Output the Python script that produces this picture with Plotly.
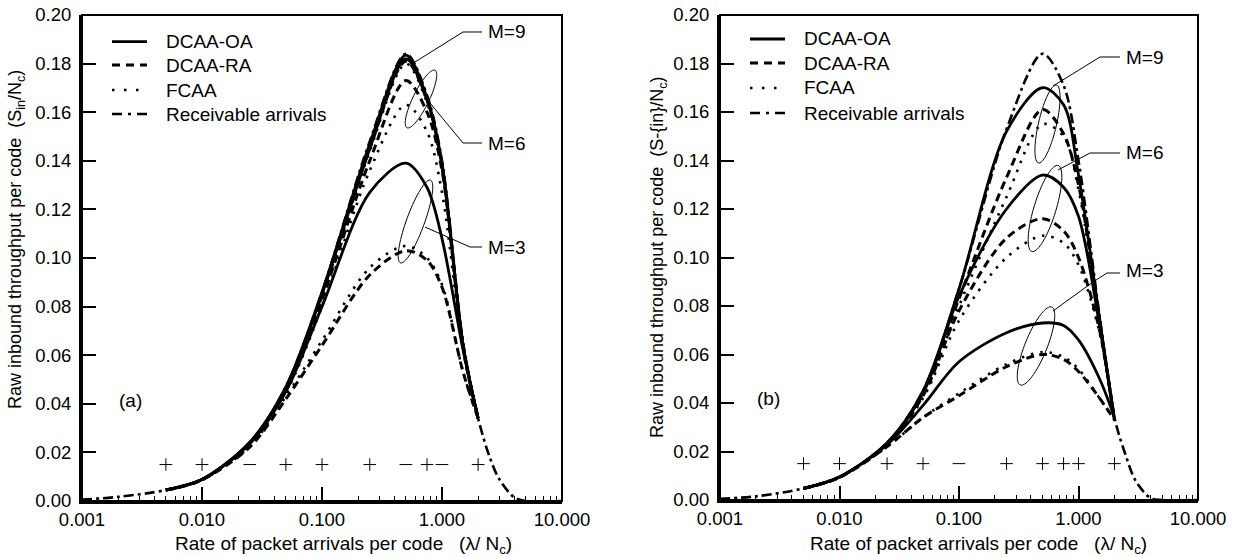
import math
import plotly.graph_objects as go

# ---------------- data ----------------
X_PTS = [0.005, 0.01, 0.025, 0.05, 0.1, 0.25, 0.5, 0.75, 1.0, 1.5, 2.0]
X_RECV = [0.001, 0.002, 0.005, 0.01, 0.025, 0.05, 0.1, 0.25, 0.5, 0.75, 1.0, 1.5,
          2.0, 2.5, 3.0, 4.0, 5.0, 10.0]
X_MARK = [0.005, 0.01, 0.025, 0.05, 0.1, 0.25, 0.5, 0.75, 1.0, 2.0]
Y_MARK = [0.015] * len(X_MARK)

# panel (a)
RECV_A = [0.0006, 0.0017, 0.0045, 0.0088, 0.024, 0.047, 0.086, 0.148, 0.184, 0.167, 0.140,
          0.065, 0.034, 0.018, 0.009, 0.0015, 0.0, 0.0]
A_OA9 = [0.0046, 0.0089, 0.0242, 0.047, 0.086, 0.147, 0.1835, 0.166, 0.139, 0.064, 0.034]
A_RA9 = [0.0045, 0.0088, 0.024, 0.0465, 0.085, 0.145, 0.181, 0.165, 0.138, 0.064, 0.034]
A_FC9 = [0.0045, 0.0088, 0.024, 0.046, 0.084, 0.144, 0.180, 0.164, 0.137, 0.063, 0.034]
A_OA6 = [0.0045, 0.0088, 0.024, 0.046, 0.085, 0.145, 0.182, 0.165, 0.138, 0.064, 0.034]
A_RA6 = [0.0045, 0.0088, 0.0238, 0.0455, 0.083, 0.140, 0.173, 0.160, 0.136, 0.063, 0.034]
A_FC6 = [0.0045, 0.0087, 0.0235, 0.0445, 0.080, 0.136, 0.163, 0.152, 0.127, 0.062, 0.034]
A_OA3 = [0.0045, 0.0088, 0.0235, 0.045, 0.080, 0.127, 0.139, 0.129, 0.108, 0.062, 0.034]
A_RA3 = [0.0045, 0.0087, 0.0222, 0.042, 0.064, 0.093, 0.103, 0.099, 0.088, 0.053, 0.034]
A_FC3 = [0.0045, 0.0087, 0.0225, 0.043, 0.066, 0.096, 0.105, 0.100, 0.089, 0.053, 0.034]

# panel (b)
RECV_B = [0.0005, 0.0015, 0.0048, 0.0095, 0.0235, 0.045, 0.087, 0.153, 0.184, 0.171, 0.140,
          0.076, 0.034, 0.018, 0.008, 0.0008, 0.0, 0.0]
B_OA9 = [0.0048, 0.0095, 0.0235, 0.045, 0.087, 0.152, 0.170, 0.163, 0.134, 0.075, 0.033]
B_RA9 = [0.0048, 0.0094, 0.023, 0.044, 0.083, 0.133, 0.161, 0.151, 0.130, 0.074, 0.033]
B_FC9 = [0.0048, 0.0094, 0.023, 0.043, 0.080, 0.125, 0.155, 0.150, 0.128, 0.073, 0.033]
B_OA6 = [0.0048, 0.0095, 0.0235, 0.044, 0.084, 0.120, 0.134, 0.129, 0.117, 0.072, 0.033]
B_RA6 = [0.0048, 0.0094, 0.023, 0.043, 0.078, 0.108, 0.116, 0.111, 0.100, 0.070, 0.033]
B_FC6 = [0.0048, 0.0094, 0.023, 0.042, 0.074, 0.100, 0.109, 0.106, 0.097, 0.069, 0.033]
B_OA3 = [0.0048, 0.0095, 0.0228, 0.039, 0.057, 0.069, 0.073, 0.072, 0.066, 0.050, 0.034]
B_RA3 = [0.0048, 0.0093, 0.022, 0.034, 0.043, 0.055, 0.060, 0.058, 0.053, 0.042, 0.033]
B_FC3 = [0.0048, 0.0093, 0.022, 0.034, 0.044, 0.056, 0.061, 0.059, 0.054, 0.042, 0.033]

X_TICKS = [0.001, 0.01, 0.1, 1.0, 10.0]
X_TICKTEXT = ["0.001", "0.010", "0.100", "1.000", "10.000"]
Y_TICKS = [0.0, 0.02, 0.04, 0.06, 0.08, 0.10, 0.12, 0.14, 0.16, 0.18, 0.20]
Y_TICKTEXT = ["0.00", "0.02", "0.04", "0.06", "0.08", "0.10", "0.12", "0.14", "0.16", "0.18", "0.20"]
LEGEND_NAMES = ["DCAA-OA", "DCAA-RA", "FCAA", "Receivable arrivals"]

# ---------------- layout helpers ----------------
W, H = 1238, 557
FONT = "Liberation Sans, Arial, Helvetica, sans-serif"
TICK_SIZE = 18.5
TEXT_SIZE = 19


def fx(p):
    return p / W


def fy(p):
    return (H - p) / H


STY = {
    "OA": dict(dash="solid", width=2.8),
    "RA": dict(dash="8px,5px", width=3),
    "FC": dict(dash="2.5px,7px", width=2.6),
    "RECV": dict(dash="10px,4px,3px,4px", width=2.6),
}

fig = go.Figure()


def add_line(x, y, kind, xa, ya):
    fig.add_trace(go.Scatter(
        x=x, y=y, mode="lines", showlegend=False, hoverinfo="skip",
        line=dict(color="black", shape="spline", smoothing=0.9, **STY[kind]),
        xaxis=xa, yaxis=ya))


panel_a = [(A_FC3, "FC"), (A_RA3, "RA"), (A_OA3, "OA"),
           (A_FC6, "FC"), (A_RA6, "RA"), (A_OA6, "OA"),
           (A_FC9, "FC"), (A_RA9, "RA"), (A_OA9, "OA")]
panel_b = [(B_FC3, "FC"), (B_RA3, "RA"), (B_OA3, "OA"),
           (B_FC6, "FC"), (B_RA6, "RA"), (B_OA6, "OA"),
           (B_FC9, "FC"), (B_RA9, "RA"), (B_OA9, "OA")]

for ys, k in panel_a:
    add_line(X_PTS, ys, k, "x", "y")
add_line(X_RECV, RECV_A, "RECV", "x", "y")
for ys, k in panel_b:
    add_line(X_PTS, ys, k, "x2", "y2")
add_line(X_RECV, RECV_B, "RECV", "x2", "y2")

SYM_A = ["cross-thin", "cross-thin", "line-ew", "cross-thin", "cross-thin",
         "cross-thin", "line-ew", "cross-thin", "line-ew", "cross-thin"]
SYM_B = ["cross-thin", "cross-thin", "cross-thin", "cross-thin", "line-ew",
         "cross-thin", "cross-thin", "cross-thin", "cross-thin", "cross-thin"]
for xa, ya, sym in (("x", "y", SYM_A), ("x2", "y2", SYM_B)):
    fig.add_trace(go.Scatter(
        x=X_MARK, y=Y_MARK, mode="markers", showlegend=False, hoverinfo="skip",
        marker=dict(symbol=sym, size=9, color="black", line=dict(width=1, color="black")),
        xaxis=xa, yaxis=ya))

minor_vals = [m * 10 ** e for e in (-3, -2, -1, 0) for m in range(2, 10)]


def xaxis_cfg(domain, anchor):
    return dict(type="log", range=[-3, 1], domain=domain, anchor=anchor, automargin=False,
                tickmode="array", tickvals=X_TICKS, ticktext=X_TICKTEXT,
                ticks="inside", ticklen=14, tickwidth=1.5, tickcolor="black",
                showline=True, linewidth=3, linecolor="black",
                showgrid=False, zeroline=False,
                tickfont=dict(family=FONT, size=TICK_SIZE, color="black"),
                minor=dict(tickmode="array", tickvals=minor_vals, ticks="inside",
                           ticklen=5, tickwidth=1, tickcolor="black", showgrid=False))


def yaxis_cfg(domain, anchor):
    return dict(range=[0, 0.2], domain=domain, anchor=anchor, automargin=False,
                tickmode="array", tickvals=Y_TICKS, ticktext=Y_TICKTEXT,
                ticks="inside", ticklen=14, tickwidth=1.5, tickcolor="black",
                showline=True, linewidth=3, linecolor="black",
                showgrid=False, zeroline=False, ticklabelstandoff=4,
                tickfont=dict(family=FONT, size=TICK_SIZE, color="black"))


shapes = []
annotations = []

# frames (top/right border)
for xr, yr in (("x domain", "y domain"), ("x2 domain", "y2 domain")):
    shapes.append(dict(type="rect", xref=xr, yref=yr, x0=0, x1=1, y0=0, y1=1,
                       line=dict(color="black", width=2), layer="below"))


def polyline(points, width=1.0):
    path = "M " + " L ".join(f"{fx(a):.5f},{fy(b):.5f}" for a, b in points)
    shapes.append(dict(type="path", xref="paper", yref="paper", path=path,
                       line=dict(color="black", width=width)))


def ellipse(cx, cy, a, b, theta_deg, n=72):
    th = math.radians(theta_deg)
    vx, vy = math.sin(th), -math.cos(th)
    ux, uy = math.cos(th), math.sin(th)
    pts = []
    for i in range(n + 1):
        t = 2 * math.pi * i / n
        pts.append((cx + b * math.cos(t) * ux + a * math.sin(t) * vx,
                    cy + b * math.cos(t) * uy + a * math.sin(t) * vy))
    polyline(pts, 1.0)


def text(xp, yp, s, size=TEXT_SIZE, xanchor="center", angle=0):
    annotations.append(dict(x=fx(xp), y=fy(yp), xref="paper", yref="paper", text=s,
                            showarrow=False, xanchor=xanchor, yanchor="middle",
                            textangle=angle,
                            font=dict(family=FONT, size=size, color="black")))


# ellipses + leaders, panel (a)
ellipse(421, 99, 32, 8, 26)
ellipse(415.5, 221.5, 44, 9, 20)
polyline([(415, 62), (463, 32), (482, 32)])
polyline([(430, 103), (463, 143), (482, 143)])
polyline([(425, 227), (470, 247), (482, 247)])
text(486, 32, "M=9", xanchor="left")
text(486, 143, "M=6", xanchor="left")
text(486, 247, "M=3", xanchor="left")

# panel (b)
ellipse(1047.5, 124, 40, 9, 13)
ellipse(1045, 208.5, 45, 11, 17)
ellipse(1036, 346, 42, 11, 22)
polyline([(1053, 86), (1100, 57), (1120, 57)])
polyline([(1058, 170), (1090, 153), (1120, 153)])
polyline([(1053, 311), (1093, 282), (1107, 273), (1120, 273)])
text(1124, 57, "M=9", xanchor="left")
text(1124, 153, "M=6", xanchor="left")
text(1124, 270, "M=3", xanchor="left")

# manual legends
LEG_DASH = {"OA": "solid", "RA": "8px,6px", "FC": "2.5px,9.5px", "RECV": "10px,6px,3px,6px"}
for (x0, x1, xt, rows) in ((112, 147, 164, (41.7, 65, 90, 114)),
                           (750, 785, 802, (39, 63, 88, 113))):
    for name, kind, yy in zip(LEGEND_NAMES, ("OA", "RA", "FC", "RECV"), rows):
        shapes.append(dict(type="line", xref="paper", yref="paper",
                           x0=fx(x0), x1=fx(x1), y0=fy(yy), y1=fy(yy),
                           line=dict(color="black", width=STY[kind]["width"],
                                     dash=LEG_DASH[kind])))
        text(xt, yy, name, size=TEXT_SIZE, xanchor="left")

# axis titles and panel labels
NB = "\u00a0"
text(343.5, 545, f"Rate of packet arrivals per code{NB*3}(λ/ N<sub>c</sub>)")
text(979, 545, f"Rate of packet arrivals per code{NB*3}(λ/ N<sub>c</sub>)")
text(16, 240, f"Raw inbound throughput per code{NB*2}(S<sub>in</sub>/N<sub>c</sub>)",
     size=18, angle=-90)
text(658, 257, f"Raw inbound throughput per code{NB*2}(S-{{in}}/N<sub>c</sub>)",
     size=18, angle=-90)
text(130, 400, "(a)")
text(768, 398, "(b)")

fig.update_layout(
    width=W, height=H,
    margin=dict(l=0, r=0, t=0, b=0, autoexpand=False),
    paper_bgcolor="white", plot_bgcolor="white",
    showlegend=False,
    xaxis=xaxis_cfg([fx(82), fx(562)], "y"),
    yaxis=yaxis_cfg([fy(501), fy(15)], "x"),
    xaxis2=xaxis_cfg([fx(720), fx(1198)], "y2"),
    yaxis2=yaxis_cfg([fy(500), fy(15)], "x2"),
    shapes=shapes,
    annotations=annotations,
    font=dict(family=FONT, color="black"),
)

fig.write_html("out.html")
